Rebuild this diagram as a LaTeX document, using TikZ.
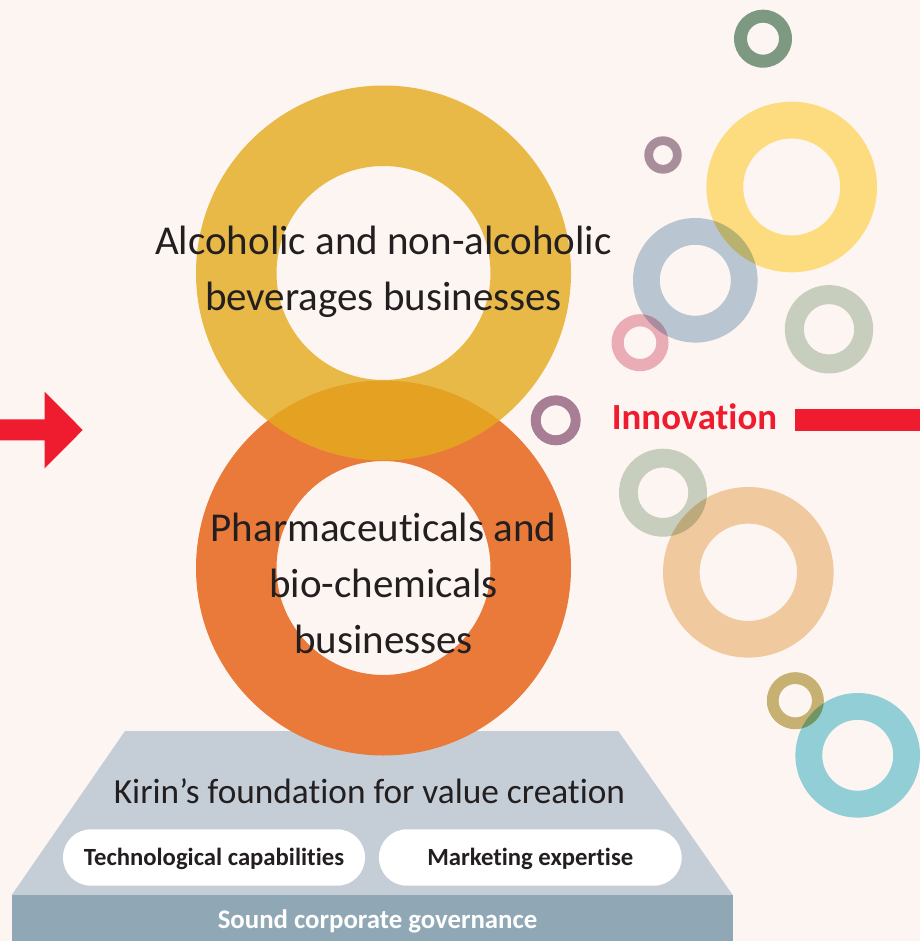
\documentclass[tikz,border=0pt]{standalone}
\usepackage{fontspec}
\setmainfont{Carlito}[Ligatures={NoCommon,NoContextual}, Contextuals={NoAlternate}]
\definecolor{bg}{HTML}{FDF5F1}
\definecolor{ink}{HTML}{231F20}
\definecolor{kred}{HTML}{EE1C2E}
\definecolor{bigyellow}{HTML}{E3AB1D}
\definecolor{bigorange}{HTML}{E97A3A}
\definecolor{trap}{HTML}{C5CED6}
\definecolor{band}{HTML}{90A8B6}
\definecolor{cgreen}{HTML}{7FA08A}
\definecolor{cmauve}{HTML}{AA94A5}
\definecolor{cyellow}{HTML}{FFE587}
\definecolor{cblue}{HTML}{BBCFDF}
\definecolor{cpink}{HTML}{ECB5C1}
\definecolor{csage}{HTML}{C9D7CA}
\definecolor{cmauvetwo}{HTML}{AA849D}
\definecolor{cpeach}{HTML}{F2D3A8}
\definecolor{colive}{HTML}{C8B97A}
\definecolor{cteal}{HTML}{94D7E2}
\newcommand\myring[4]{\fill[#1, even odd rule] (#2) circle[radius=#3] (#2) circle[radius=#4];}
\newcommand\tiX{t\kern0pt i}
\begin{document}
\begin{tikzpicture}[x=1pt,y=-1pt,
  txt/.style={inner sep=0pt, anchor=base, text=ink},
  bigtxt/.style={txt, font=\fontsize{41}{49}\selectfont},
  pill/.style={fill=white, rounded corners=28pt, minimum height=56.4pt, inner sep=0pt,
     text height=16pt, text depth=0pt, text=ink, font=\bfseries\fontsize{24.7}{30}\selectfont}]
\fill[bg] (0,0) rectangle (920,941);
\useasboundingbox (0,0) rectangle (920,941);

% left arrow
\fill[kred] (0,419.3) -- (44.7,419.3) -- (44.7,391.7) -- (82.7,430) -- (44.7,468.3) -- (44.7,440.3) -- (0,440.3) -- cycle;
% right bar
\fill[kred] (795,409.3) rectangle (920,431);

% foundation
\fill[trap] (125,731) -- (618.3,731) -- (732.7,895) -- (11.7,895) -- cycle;
\fill[band] (11.7,895) rectangle (732.7,941);

% big rings
\myring{bigorange}{383.5,568}{187.5}{107}
\myring{bigyellow, fill opacity=0.8}{383.5,273}{187.5}{107}

% small rings
\begin{scope}[blend mode=multiply]
\myring{cgreen}{763,38.7}{29}{16}
\myring{cmauve}{663,155}{18.7}{10}
\myring{cyellow}{791.7,187}{85.3}{48.5}
\myring{cblue}{695.3,280.3}{62.3}{35.5}
\myring{cpink}{640,342.7}{28.5}{16.3}
\myring{csage}{829,329.3}{44.2}{25.2}
\myring{cmauvetwo}{555.7,420.3}{25}{15}
\myring{csage}{663,492.7}{44}{25.3}
\myring{cpeach}{748.3,572.3}{85.3}{48.7}
\myring{colive}{795.3,700.7}{28.5}{16.7}
\myring{cteal}{857.7,755.3}{62.3}{35.5}
\end{scope}

% texts
\node[bigtxt] (alcA) at (383.5,254) {Alcoholic and non-alcoholic};
\node[bigtxt] (alcB) at (383.5,310) {beverages businesses};
\node[bigtxt] (phA) at (383.5,541.7) {Pharmaceu\tiX cals and};
\node[bigtxt] (phB) at (383.5,597) {bio-chemicals};
\node[bigtxt] (phC) at (383.5,653) {businesses};

\node[txt, anchor=base west, text=kred, font=\bfseries\fontsize{36.8}{44}\selectfont] (innov) at (611.7,429) {Innova\tiX on};

\node[txt, font=\fontsize{35.3}{42}\selectfont] (kirin) at (369.5,803) {Kirin’s founda\tiX on for value crea\tiX on};

\node[pill, minimum width=302pt] (tech) at (214,857.5) {Technological capabili\tiX es};
\node[pill, minimum width=302.7pt] (mkt) at (530.3,857.5) {Marke\tiX ng exper\tiX se};

\node[txt, text=white, font=\bfseries\fontsize{26.8}{32}\selectfont] (gov) at (377.5,928) {Sound corporate governance};
\end{tikzpicture}
\end{document}
